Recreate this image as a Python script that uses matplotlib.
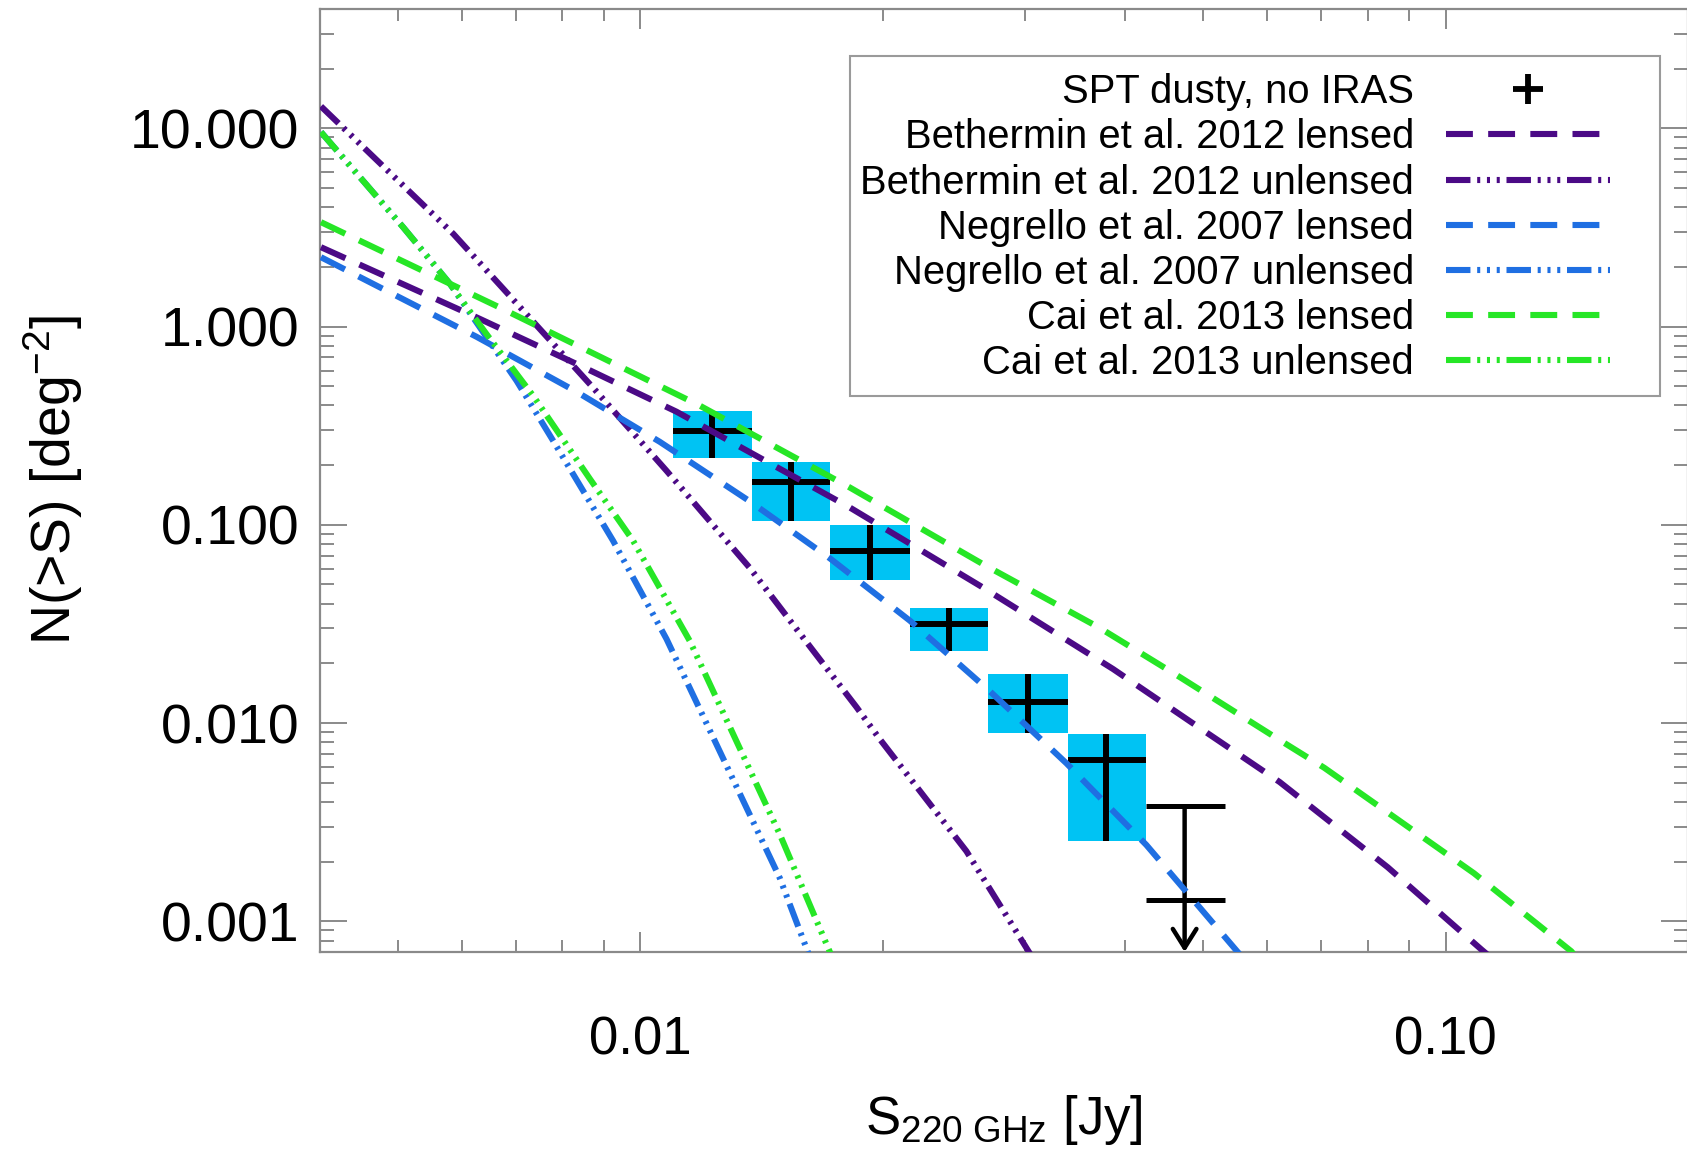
import matplotlib
matplotlib.use('Agg')
import matplotlib.pyplot as plt
from matplotlib.patches import Rectangle
from matplotlib.lines import Line2D
from matplotlib.ticker import FormatStrFormatter, NullFormatter

plt.rcParams['font.family'] = 'Liberation Sans'
plt.rcParams['mathtext.fontset'] = 'custom'
plt.rcParams['mathtext.rm'] = 'Liberation Sans'
plt.rcParams['mathtext.it'] = 'Liberation Sans:italic'
plt.rcParams['mathtext.bf'] = 'Liberation Sans:bold'

# ---------------------------------------------------------------
# SPT dusty sources (no IRAS): cumulative counts per flux bin
# ---------------------------------------------------------------
bin_lo = [0.01097, 0.01375, 0.01721, 0.02164, 0.02705, 0.03394]
bin_hi = [0.01375, 0.01721, 0.02164, 0.02705, 0.03394, 0.04250]
bin_mid = [0.01227, 0.01538, 0.01927, 0.02415, 0.03030, 0.03791]
counts = [0.2960, 0.1636, 0.07367, 0.03151, 0.01276, 0.006481]
counts_lo = [0.2162, 0.1048, 0.05276, 0.02310, 0.008934, 0.002535]
counts_hi = [0.3735, 0.2081, 0.09965, 0.03822, 0.01774, 0.008831]

# brightest bin is only an upper limit
ul_lo, ul_hi, ul_mid = 0.04250, 0.05317, 0.04741
ul_top, ul_bar = 0.003809, 0.001277

# ---------------------------------------------------------------
# model counts N(>S)
# ---------------------------------------------------------------
beth_len_S = [0.004011, 0.006256, 0.008330, 0.011087, 0.018197, 0.026637,
              0.038630, 0.048095, 0.062220, 0.08473, 0.11080, 0.1180]
beth_len_N = [2.5148, 1.1142, 0.6479, 0.3721, 0.1223, 0.04824,
              0.01874, 0.01023, 0.005040, 0.001874, 0.000720, 0.000580]

beth_unl_S = [0.004011, 0.005855, 0.007150, 0.008734, 0.010775, 0.013672,
              0.015623, 0.018549, 0.019827, 0.025403, 0.030443, 0.0315]
beth_unl_N = [12.915, 2.9390, 1.2045, 0.4918, 0.1874, 0.06064,
              0.02984, 0.01204, 0.008302, 0.002257, 0.000690, 0.00058]

negr_len_S = [0.004011, 0.006256, 0.008330, 0.010570, 0.013672, 0.017181,
              0.021609, 0.027152, 0.033814, 0.042497, 0.055400, 0.0575]
negr_len_N = [2.2387, 0.8891, 0.4691, 0.2622, 0.1314, 0.06788,
              0.03285, 0.01449, 0.006266, 0.002426, 0.000687, 0.00058]

negr_unl_S = [0.004011, 0.005073, 0.005800, 0.007016, 0.007791, 0.009249,
              0.010775, 0.014895, 0.016164, 0.0165]
negr_unl_N = [9.579, 3.1735, 1.6434, 0.5337, 0.2656, 0.08302,
              0.02655, 0.001655, 0.000690, 0.00058]

cai_len_S = [0.004011, 0.006690, 0.011851, 0.018197, 0.026637, 0.037190,
             0.046738, 0.062220, 0.070690, 0.10845, 0.14324, 0.148]
cai_len_N = [3.3630, 1.2472, 0.3992, 0.1543, 0.06331, 0.03019,
             0.01708, 0.008206, 0.005946, 0.001747, 0.000706, 0.00060]

cai_unl_S = [0.004011, 0.005073, 0.005800, 0.006437, 0.007357, 0.008652,
             0.009794, 0.011517, 0.014895, 0.017216, 0.0176]
cai_unl_N = [9.579, 3.1735, 1.6434, 0.9186, 0.4482, 0.1708,
             0.08302, 0.02594, 0.002750, 0.000690, 0.00058]

xlim = (0.004, 0.2)
ylim = (7e-4, 40.0)

purple = '#4b0a86'
blue = '#1f6fe2'
green = '#26e626'
box_col = '#00c3f3'
frame_col = '#8a8a8a'

dash = (0, (4.4, 2.5))
dash3dot = (0, (4.0, 1.1, 0.5, 1.1, 0.5, 1.1, 0.5, 1.1))
lw = 4.4

fig = plt.figure(figsize=(16.87, 11.51), dpi=100)
ax = fig.add_axes([320 / 1687, 1 - 952 / 1151, 1368 / 1687, 943 / 1151])
ax.set_xscale('log')
ax.set_yscale('log')

# data: shaded boxes with crosses
for lo, hi, nlo, nhi in zip(bin_lo, bin_hi, counts_lo, counts_hi):
    ax.add_patch(Rectangle((lo, nlo), hi - lo, nhi - nlo, facecolor=box_col,
                           edgecolor='none', zorder=1))
xerr = [[m - lo for m, lo in zip(bin_mid, bin_lo)],
        [hi - m for m, hi in zip(bin_mid, bin_hi)]]
yerr = [[n - lo for n, lo in zip(counts, counts_lo)],
        [hi - n for n, hi in zip(counts, counts_hi)]]
ax.errorbar(bin_mid, counts, xerr=xerr, yerr=yerr, fmt='none', ecolor='k',
            elinewidth=4.3, capsize=0, zorder=2)

# upper limit
ax.hlines([ul_top, ul_bar], ul_lo, ul_hi, colors='k', lw=3.6, zorder=2)
ax.annotate('', xy=(ul_mid, ylim[0]), xytext=(ul_mid, ul_top),
            arrowprops=dict(arrowstyle='->, head_length=0.4, head_width=0.25',
                            mutation_scale=34, lw=3.2, color='k',
                            shrinkA=0, shrinkB=0), zorder=2)

# models
ax.plot(beth_len_S, beth_len_N, color=purple, lw=lw, ls=dash, zorder=3)
ax.plot(beth_unl_S, beth_unl_N, color=purple, lw=lw, ls=dash3dot, zorder=3)
ax.plot(negr_len_S, negr_len_N, color=blue, lw=lw, ls=dash, zorder=3)
ax.plot(negr_unl_S, negr_unl_N, color=blue, lw=lw, ls=dash3dot, zorder=3)
ax.plot(cai_len_S, cai_len_N, color=green, lw=lw, ls=dash, zorder=3)
ax.plot(cai_unl_S, cai_unl_N, color=green, lw=lw, ls=dash3dot, zorder=3)

ax.set_xlim(*xlim)
ax.set_ylim(*ylim)

ax.set_xticks([0.01, 0.1])
ax.set_yticks([0.001, 0.01, 0.1, 1, 10])
ax.xaxis.set_major_formatter(FormatStrFormatter('%.2f'))
ax.yaxis.set_major_formatter(FormatStrFormatter('%.3f'))
ax.xaxis.set_minor_formatter(NullFormatter())
ax.yaxis.set_minor_formatter(NullFormatter())

ax.tick_params(which='both', direction='in', top=True, right=True,
               color=frame_col, width=1.4)
ax.tick_params(axis='x', which='major', length=14.5, labelsize=38, pad=46)
ax.tick_params(axis='x', which='minor', length=8.5)
ax.tick_params(axis='y', which='major', length=19.5, labelsize=40, pad=15)
ax.tick_params(axis='y', which='minor', length=10)
for sp in ax.spines.values():
    sp.set_color(frame_col)
    sp.set_linewidth(1.6)

ax.set_xlabel(r'S$_{\mathrm{220\ GHz}}$ [Jy]', fontsize=38)
ax.xaxis.set_label_coords(0.5, -0.150)
ax.xaxis.label.set_va('top')
ax.set_ylabel(r'N(>S) [deg$^{-2}$]', fontsize=40)
ax.yaxis.set_label_coords(-0.172, 0.5)

# legend: entries on the right, frame drawn separately
handles = [
    Line2D([], [], ls='none', marker='+', ms=21, mew=4.2, color='k'),
    Line2D([], [], color=purple, lw=lw, ls=dash),
    Line2D([], [], color=purple, lw=lw, ls=dash3dot),
    Line2D([], [], color=blue, lw=lw, ls=dash),
    Line2D([], [], color=blue, lw=lw, ls=dash3dot),
    Line2D([], [], color=green, lw=lw, ls=dash),
    Line2D([], [], color=green, lw=lw, ls=dash3dot),
]
labels = ['SPT dusty, no IRAS',
          'Bethermin et al. 2012 lensed',
          'Bethermin et al. 2012 unlensed',
          'Negrello et al. 2007 lensed',
          'Negrello et al. 2007 unlensed',
          'Cai et al. 2013 lensed',
          'Cai et al. 2013 unlensed']

ax.add_patch(Rectangle((0.3874, 0.5896), 0.9795 - 0.3874, 0.9502 - 0.5896,
                       transform=ax.transAxes, facecolor='white',
                       edgecolor='#9a9a9a', lw=1.5, zorder=4))
leg = ax.legend(handles, labels, loc='upper right',
                bbox_to_anchor=(0.943, 0.932), frameon=False, fontsize=28.8,
                markerfirst=False, handlelength=4.1, handletextpad=0.8,
                labelspacing=0.18, borderpad=0, borderaxespad=0)
leg.set_zorder(5)

fig.savefig('out.png', dpi=100)
